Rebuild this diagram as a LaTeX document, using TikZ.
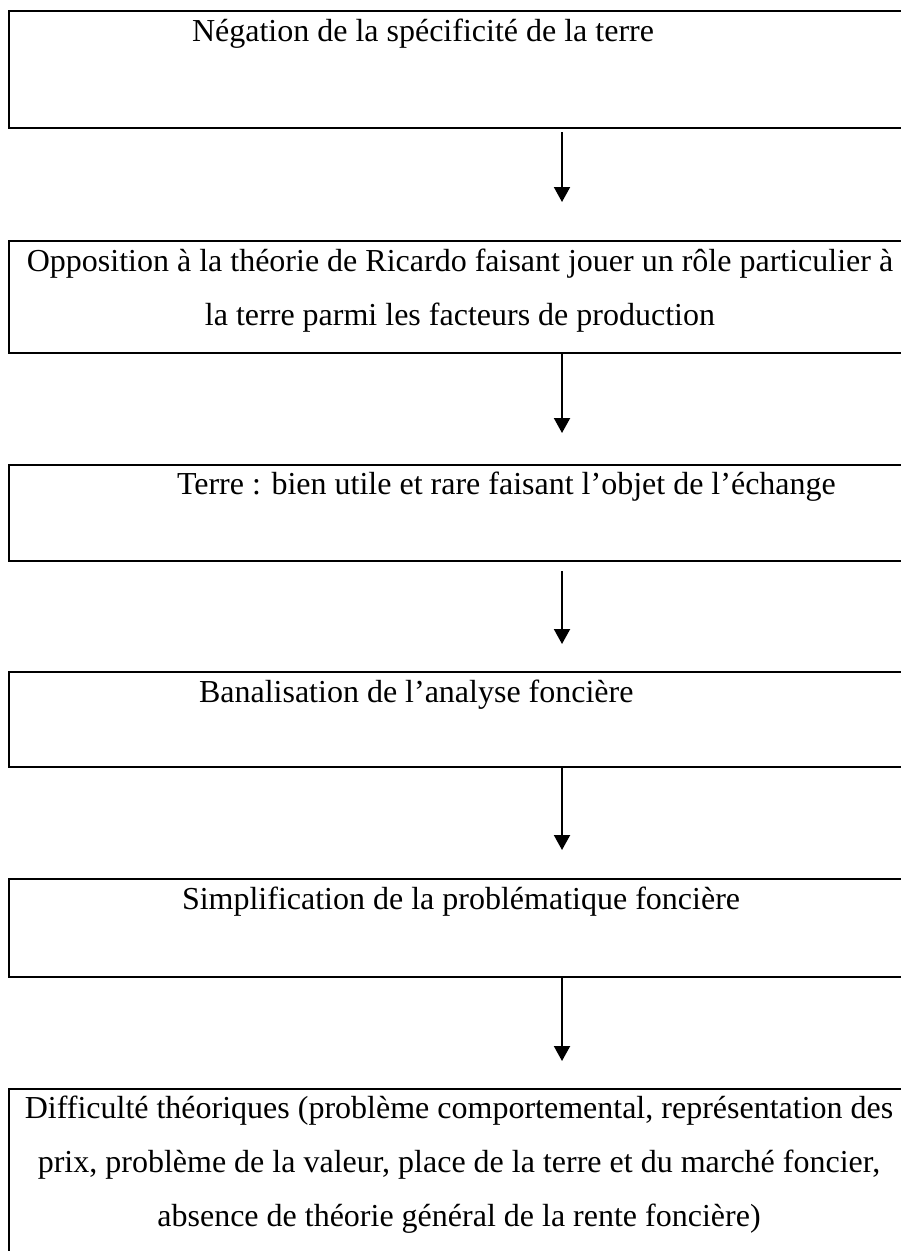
\documentclass[tikz,border=0pt]{standalone}
\usepackage{fontspec}
\setmainfont{Liberation Serif}[Ligatures=CommonOff]
\usetikzlibrary{arrows.meta}
\begin{document}
\begin{tikzpicture}[x=1pt,y=-1pt,
  box/.style={draw=black,line width=2.8pt,rectangle,outer sep=0pt,inner sep=0pt,anchor=north west,minimum width=960pt},
  txt/.style={inner sep=0pt,outer sep=0pt,font=\fontsize{32}{54}\selectfont},
  arr/.style={draw=black,line width=2pt,-{Triangle[length=15pt,width=16pt]}}]
\useasboundingbox[fill=white] (0,0) rectangle (901,1251);
% boxes
\node[box,minimum height=117pt] (b1) at (9,11) {};
\node[box,minimum height=112pt] (b2) at (9,241) {};
\node[box,minimum height=96pt]  (b3) at (9,465) {};
\node[box,minimum height=95pt]  (b4) at (9,672) {};
\node[box,minimum height=98pt]  (b5) at (9,879) {};
\node[box,minimum height=220pt] (b6) at (9,1089) {};
% texts
\node[txt,anchor=base west] (n1) at (192,41) {Négation de la spécificité de la terre};
\node[txt,anchor=base,align=center] (n2) at (460,325) {Opposition à la théorie de Ricardo faisant jouer un rôle particulier à\\la terre parmi les facteurs de production};
\node[txt,anchor=base west] (n3) at (177,494) {Terre : bien utile et rare faisant l’objet de l’échange};
\node[txt,anchor=base west] (n4) at (199,702) {Banalisation de l’analyse foncière};
\node[txt,anchor=base west] (n5) at (182,909) {Simplification de la problématique foncière};
\node[txt,anchor=base,align=center] (n6) at (459,1226) {Difficulté théoriques (problème comportemental, représentation des\\prix, problème de la valeur, place de la terre et du marché foncier,\\absence de théorie général de la rente foncière)};
% arrow tips
\coordinate (t1) at (562,202);
\coordinate (t2) at (562,433);
\coordinate (t3) at (562,644);
\coordinate (t4) at (562,850);
\coordinate (t5) at (562,1061);
\draw[arr] ([yshift=-4pt]b1.south -| t1) -- (t1);
\draw[arr] (b2.south -| t2) -- (t2);
\draw[arr] ([yshift=-10pt]b3.south -| t3) -- (t3);
\draw[arr] (b4.south -| t4) -- (t4);
\draw[arr] (b5.south -| t5) -- (t5);
\end{tikzpicture}
\end{document}
